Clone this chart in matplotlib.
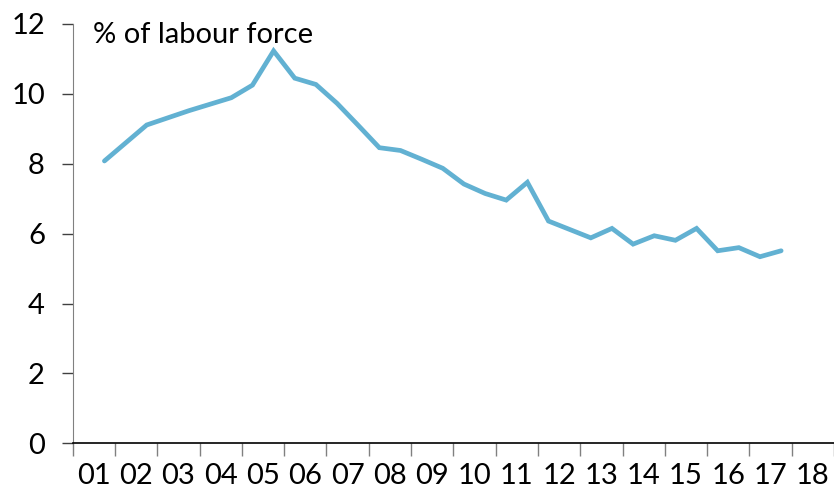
import matplotlib.pyplot as plt
from matplotlib.ticker import FixedLocator, NullFormatter

# unemployment rate, half-yearly readings (x = decimal year)
years = [2001.75, 2002.75, 2003.75, 2004.75, 2005.25, 2005.75, 2006.25, 2006.75,
         2007.25, 2007.75, 2008.25, 2008.75, 2009.25, 2009.75, 2010.25, 2010.75,
         2011.25, 2011.75, 2012.25, 2012.75, 2013.25, 2013.75, 2014.25, 2014.75,
         2015.25, 2015.75, 2016.25, 2016.75, 2017.25, 2017.75]
rate = [8.08, 9.11, 9.52, 9.89, 10.25, 11.23, 10.45, 10.27,
        9.73, 9.10, 8.46, 8.38, 8.13, 7.87, 7.42, 7.15,
        6.96, 7.47, 6.36, 6.12, 5.88, 6.15, 5.70, 5.94,
        5.81, 6.15, 5.51, 5.60, 5.34, 5.51]
year_labels = ["01", "02", "03", "04", "05", "06", "07", "08", "09",
               "10", "11", "12", "13", "14", "15", "16", "17", "18"]

plt.rcParams['font.family'] = ['Lato', 'DejaVu Sans']

fig = plt.figure(figsize=(8.34, 4.94), dpi=100)
ax = fig.add_axes([72.7 / 834, 1 - 443.3 / 494, 1 - 72.7 / 834, (443.3 - 24) / 494])

ax.plot(years, rate, color="#62B1D2", lw=3.4, solid_joinstyle="miter",
        solid_capstyle="round")

ax.set_xlim(2001, 2019)
ax.set_ylim(0, 12)

# tick marks on year boundaries, labels in the middle of each year
ax.xaxis.set_major_locator(FixedLocator(range(2001, 2020)))
ax.xaxis.set_major_formatter(NullFormatter())
ax.xaxis.set_minor_locator(FixedLocator([2001.5 + i for i in range(18)]))
ax.set_xticklabels(year_labels, minor=True)
ax.tick_params(axis="x", which="major", length=9, width=1, color="#808080",
               direction="out")
ax.tick_params(axis="x", which="minor", length=0, pad=14, labelsize=21)

ax.set_yticks(range(0, 13, 2))
ax.tick_params(axis="y", length=8, width=1, color="#404040", labelsize=21, pad=12)

for side in ["top", "right"]:
    ax.spines[side].set_visible(False)
ax.spines["left"].set_color("#808080")
ax.spines["bottom"].set_color("#000000")
ax.spines["bottom"].set_linewidth(1.2)

fig.text(93 / 834, 1 - 42.7 / 494, "% of labour force", fontsize=21,
         va="baseline", ha="left")

fig.savefig("out.png", dpi=100)
